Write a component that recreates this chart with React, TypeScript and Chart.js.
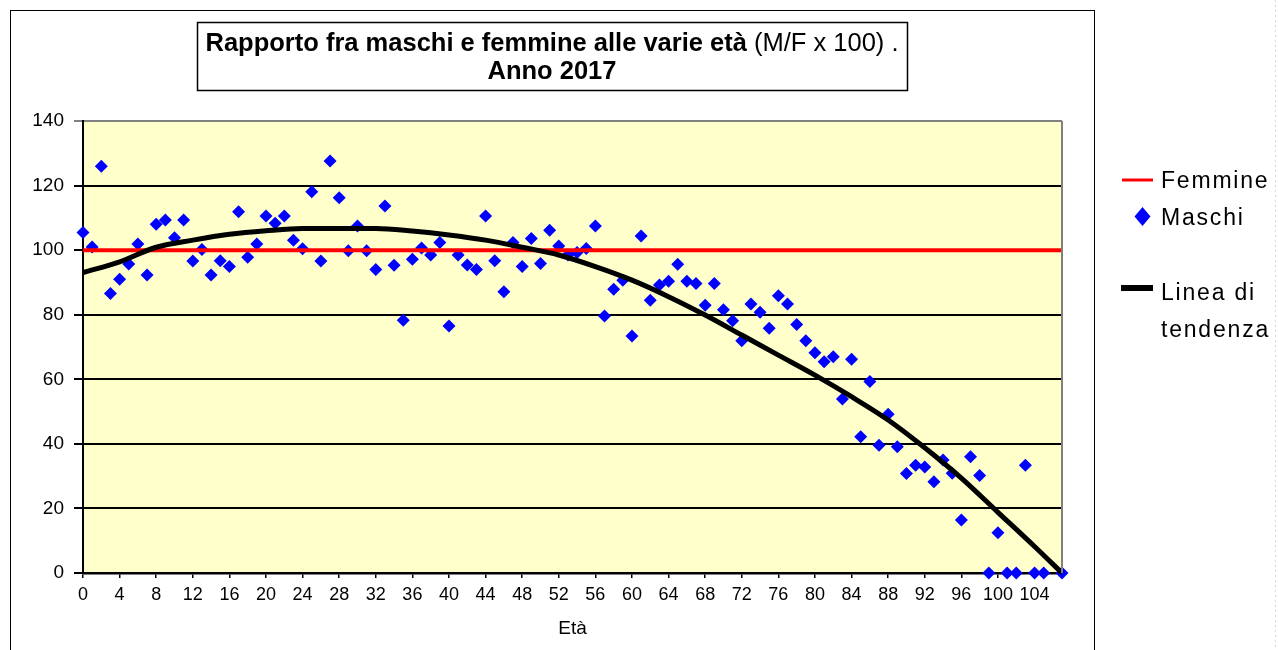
import React, { useEffect, useRef } from 'react';
import { Chart, registerables } from 'chart.js';

Chart.register(...registerables);

const FONT = '"Liberation Sans", Arial, Helvetica, sans-serif';

// Categories: ages 0..107
const AGES: string[] = Array.from({ length: 108 }, (_, i) => String(i));

// Maschi: M/F x 100 ratio by age; age 106 has no point
const MASCHI: (number | null)[] = [
  105.5, 101, 126, 86.6, 91, 95.7, 101.9, 92.3, 108, 109.3,
  103.8, 109.3, 96.6, 100.2, 92.3, 96.7, 94.9, 111.9, 97.8, 101.9,
  110.6, 108.3, 110.6, 103.1, 100.4, 118.1, 96.6, 127.6, 116.2, 99.8,
  107.5, 99.8, 94, 113.7, 95.3, 78.3, 97.2, 100.7, 98.5, 102.4,
  76.5, 98.5, 95.4, 94, 110.6, 96.7, 87.1, 102.4, 94.9, 103.6,
  95.9, 106.2, 101.3, 98.5, 99.3, 100.5, 107.5, 79.6, 87.9, 90.7,
  73.4, 104.4, 84.5, 89.2, 90.4, 95.6, 90.4, 89.7, 82.9, 89.7,
  81.5, 78.1, 71.9, 83.3, 80.8, 75.8, 85.9, 83.3, 77, 71.9,
  68.2, 65.4, 67, 53.9, 66.2, 42.2, 59.3, 39.6, 49.2, 39.1,
  30.8, 33.4, 32.8, 28.3, 35, 30.9, 16.4, 36, 30.2, 0,
  12.5, 0, 0, 33.4, 0, 0, null, 0,
];

// Femmine reference level (100)
const FEMMINE_LEVEL = 100;

// Trend line (Linea di tendenza) at these ages
const TREND_AGES: string[] = ['0', '4', '8', '12', '16', '20', '24', '28', '32', '36', '40', '44', '48', '52', '56', '60', '64', '68', '72', '76', '80', '84', '88', '92', '96', '100', '104', '107'];
const TREND_VALUES: number[] = [93, 96.4, 100.9, 103.1, 104.9, 106, 106.7, 106.7, 106.7, 105.9, 104.7, 103.1, 100.9, 98.5, 94.9, 90.7, 85.6, 79.9, 73.7, 67.5, 61.3, 54.6, 47.4, 38.8, 29.4, 18.8, 8.2, 0];

const TITLE_BOLD = 'Rapporto fra maschi e femmine alle varie età';
const TITLE_NORMAL = ' (M/F x 100) .';
const TITLE_LINE2 = 'Anno 2017';
const X_TITLE = 'Età';
const LEGEND_FEMMINE = 'Femmine';
const LEGEND_MASCHI = 'Maschi';
const LEGEND_TREND = ['Linea di', 'tendenza'];

const decorPlugin = {
  id: 'decor',
  beforeDraw(chart: any) {
    const { ctx, chartArea: a } = chart;
    ctx.save();
    ctx.fillStyle = '#FFFFFF';
    ctx.fillRect(0, 0, chart.width, chart.height);
    ctx.fillStyle = '#FFFFCC';
    ctx.fillRect(a.left, a.top, a.right - a.left, a.bottom - a.top);
    ctx.restore();
  },
  afterDraw(chart: any) {
    const { ctx, chartArea: a } = chart;
    ctx.save();
    // plot area right border (grey)
    ctx.strokeStyle = '#808080';
    ctx.lineWidth = 2;
    ctx.beginPath();
    ctx.moveTo(a.right, a.top);
    ctx.lineTo(a.right, a.bottom);
    ctx.stroke();

    // outer chart border
    ctx.strokeStyle = '#000';
    ctx.lineWidth = 1;
    ctx.strokeRect(10.5, 10.5, 1084, 700);

    // faint right guide
    ctx.strokeStyle = '#d8d8d8';
    ctx.setLineDash([2, 3]);
    ctx.beginPath();
    ctx.moveTo(1275.5, 0);
    ctx.lineTo(1275.5, 650);
    ctx.stroke();
    ctx.setLineDash([]);

    // title box
    ctx.fillStyle = '#fff';
    ctx.fillRect(197, 22, 711, 68);
    ctx.strokeStyle = '#000';
    ctx.lineWidth = 1.5;
    ctx.strokeRect(197.5, 22.5, 710, 68);

    ctx.fillStyle = '#000';
    ctx.textBaseline = 'alphabetic';
    ctx.textAlign = 'left';
    const boldFont = `bold 25.5px ${FONT}`;
    const normFont = `25.5px ${FONT}`;
    ctx.font = boldFont;
    const wb = ctx.measureText(TITLE_BOLD).width;
    ctx.font = normFont;
    const wn = ctx.measureText(TITLE_NORMAL).width;
    const cx = 552;
    const x0 = cx - (wb + wn) / 2;
    ctx.font = boldFont;
    ctx.fillText(TITLE_BOLD, x0, 51);
    ctx.font = normFont;
    ctx.fillText(TITLE_NORMAL, x0 + wb, 51);
    ctx.font = boldFont;
    ctx.textAlign = 'center';
    ctx.fillText(TITLE_LINE2, cx, 79);

    // legend
    ctx.textAlign = 'left';
    ctx.font = `23px ${FONT}`;
    (ctx as any).letterSpacing = '1.8px';
    ctx.strokeStyle = '#FF0000';
    ctx.lineWidth = 3;
    ctx.beginPath();
    ctx.moveTo(1122, 180);
    ctx.lineTo(1153, 180);
    ctx.stroke();
    ctx.fillText(LEGEND_FEMMINE, 1161, 188);

    ctx.fillStyle = '#0000FF';
    ctx.beginPath();
    ctx.moveTo(1142.5, 207);
    ctx.lineTo(1150.5, 216.5);
    ctx.lineTo(1142.5, 226);
    ctx.lineTo(1134.5, 216.5);
    ctx.closePath();
    ctx.fill();
    ctx.fillStyle = '#000';
    ctx.fillText(LEGEND_MASCHI, 1161, 225);

    ctx.strokeStyle = '#000';
    ctx.lineWidth = 6;
    ctx.beginPath();
    ctx.moveTo(1121, 288);
    ctx.lineTo(1153, 288);
    ctx.stroke();
    ctx.fillText(LEGEND_TREND[0], 1161, 300);
    ctx.fillText(LEGEND_TREND[1], 1161, 337);
    (ctx as any).letterSpacing = '0px';
    ctx.restore();
  },
};

export default function App() {
  const ref = useRef<HTMLCanvasElement | null>(null);

  useEffect(() => {
    if (!ref.current) return;
    const chart = new Chart(ref.current, {
      type: 'line',
      data: {
        labels: AGES,
        datasets: [
          {
            label: 'Linea di tendenza',
            data: TREND_AGES.map((a, i) => ({ x: a, y: TREND_VALUES[i] })) as any,
            borderColor: '#000000',
            borderWidth: 5,
            pointRadius: 0,
            spanGaps: true,
            tension: 0.4,
            cubicInterpolationMode: 'monotone',
            fill: false,
            clip: false as any,
            order: 0,
          },
          {
            label: 'Femmine',
            data: AGES.map(() => FEMMINE_LEVEL),
            borderColor: '#FF0000',
            borderWidth: 4,
            pointRadius: 0,
            fill: false,
            order: 1,
          },
          {
            label: 'Maschi',
            data: MASCHI,
            showLine: false,
            pointStyle: 'rectRot',
            pointRadius: 6.5,
            pointBackgroundColor: '#0000FF',
            pointBorderColor: '#0000FF',
            pointBorderWidth: 0,
            backgroundColor: '#0000FF',
            borderColor: '#0000FF',
            clip: false as any,
            order: 2,
          },
        ],
      },
      options: {
        responsive: false,
        animation: false,
        events: [],
        layout: { padding: { left: 0, top: 121, right: 216, bottom: 0 } },
        plugins: {
          legend: { display: false },
          tooltip: { enabled: false },
          title: { display: false },
        },
        scales: {
          x: {
            type: 'category',
            offset: false,
            grid: {
              display: true,
              drawOnChartArea: false,
              drawTicks: true,
              tickLength: 5,
              color: '#000',
              lineWidth: 1.5,
            },
            border: { display: true, color: '#000', width: 2.5 },
            ticks: {
              autoSkip: false,
              maxRotation: 0,
              minRotation: 0,
              color: '#000',
              padding: 6,
              font: { family: FONT, size: 18 },
              callback: (_v: any, i: number) => (i % 4 === 0 ? AGES[i] : null),
            },
            title: {
              display: true,
              text: X_TITLE,
              color: '#000',
              font: { family: FONT, size: 19 },
              padding: { top: 0, bottom: 10 },
            },
            afterFit: (s: any) => {
              s.height = 77;
            },
          },
          y: {
            min: 0,
            max: 140,
            grid: {
              color: (c: any) => (c.tick && c.tick.value === 140 ? '#808080' : '#000'),
              lineWidth: 2,
              tickLength: 9,
              drawTicks: true,
            },
            border: { display: true, color: '#000', width: 2 },
            ticks: {
              stepSize: 20,
              color: '#000',
              padding: 10,
              font: { family: FONT, size: 19 },
            },
            afterFit: (s: any) => {
              s.width = 83;
            },
          },
        },
      },
      plugins: [decorPlugin],
    });
    return () => chart.destroy();
  }, []);

  return (
    <div style={{ position: 'absolute', left: 0, top: 0, width: 1278, height: 650 }}>
      <canvas ref={ref} width={1278} height={650} style={{ width: 1278, height: 650, display: 'block' }} />
    </div>
  );
}
